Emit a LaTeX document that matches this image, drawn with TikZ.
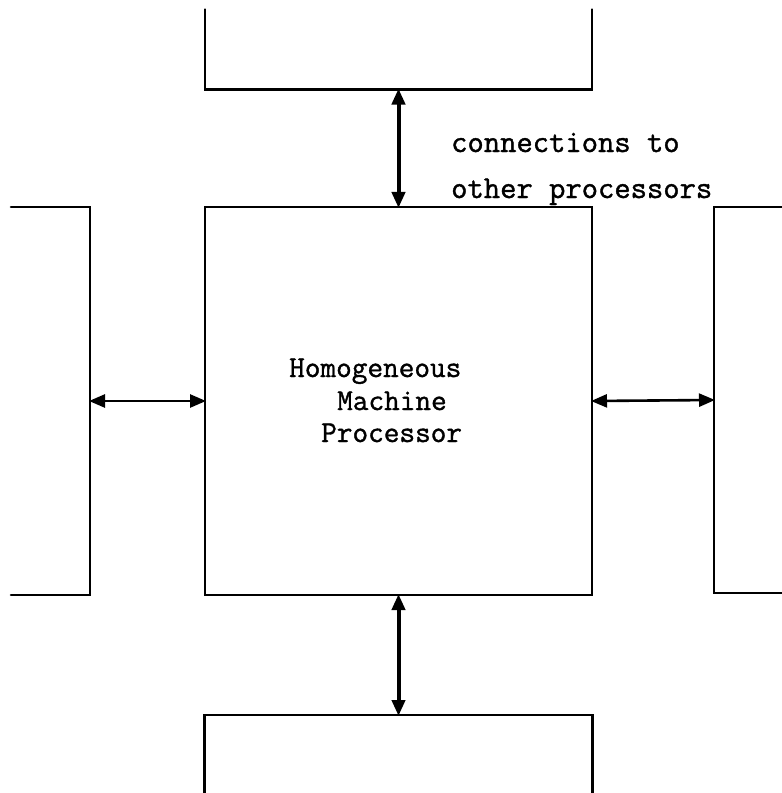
\documentclass[tikz,border=0pt]{standalone}
\usepackage{fontspec}
\newfontfamily\typer{Latin Modern Mono}[FakeBold=1.2]
\usetikzlibrary{arrows.meta}
\begin{document}
\begin{tikzpicture}[x=1bp,y=-1bp,
  boxside/.style={line width=2.6bp, line cap=round, line join=miter},
  slot/.style={draw=none, rectangle, inner sep=0pt, outer sep=0pt},
  link/.style={line width=4bp, {Triangle[length=16bp,width=13bp]}-{Triangle[length=16bp,width=13bp]}, shorten <=-1bp, shorten >=-1bp},
  thinlink/.style={link, line width=2.6bp},
  label/.style={font=\typer\fontsize{31.8}{45}\selectfont, anchor=base west, inner sep=0pt},
  title/.style={font=\typer\fontsize{30.5}{32}\selectfont, anchor=base west, inner sep=0pt}]
  \useasboundingbox (0,0) rectangle (782,793);
  \clip (0,0) rectangle (782,793);

  % central processor and its four neighbours
  \node[slot, minimum width=387bp, minimum height=388bp] (proc) at (398.5,401) {};
  \node[slot, minimum width=387bp, minimum height=80bp] (north) at (398.5,49.5) {};
  \node[slot, minimum width=388bp, minimum height=90bp] (south) at (398.5,760) {};
  \node[slot, minimum width=79bp, minimum height=388bp] (west) at (50.5,401) {};
  \node[slot, minimum width=100bp, minimum height=386bp] (east) at (764,400) {};

  \draw[boxside] (proc.north west) rectangle (proc.south east);
  \draw[boxside] (north.north west) -- (north.south west) -- (north.south east) -- (north.north east);
  \draw[boxside] (south.south west) -- (south.north west) -- (south.north east) -- (south.south east);
  \draw[boxside] (west.north west) -- (west.north east) -- (west.south east) -- (west.south west);
  \draw[boxside] (east.north east) -- (east.north west) -- (east.south west) -- (east.south east);

  % bidirectional connections
  \draw[link] (north.south) -- (proc.north);
  \draw[link] (proc.south) -- (south.north);
  \draw[thinlink] (west.east) -- (proc.west);
  \draw[thinlink] (proc.east) -- (east.west);

  % labels
  \node[label] (lab1) at (451,152) {connections to};
  \node[label] (lab2) at (451,198) {other processors};
  \node[title] (name1) at (289,377) {Homogeneous};
  \node[title] (name2) at (337,410) {Machine};
  \node[title] (name3) at (321,442) {Processor};
\end{tikzpicture}
\end{document}
